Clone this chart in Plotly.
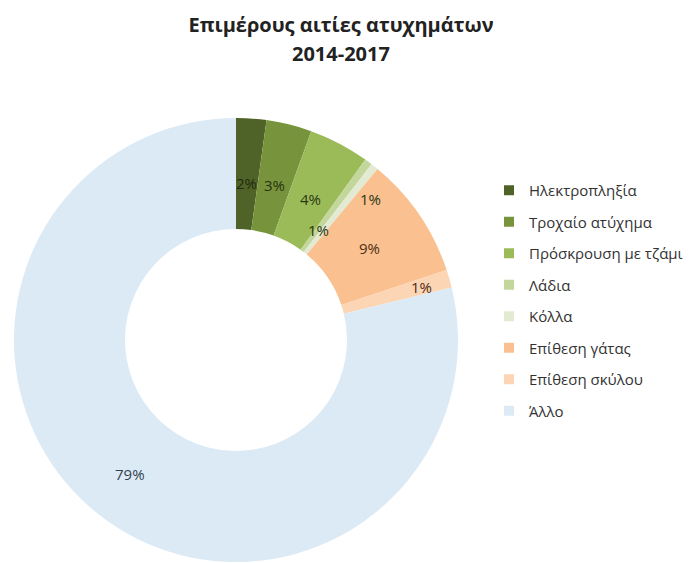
import math
import plotly.graph_objects as go

# Causes of accidents, share of total (%), 2014-2017
categories = [
    "Ηλεκτροπληξία",
    "Τροχαίο ατύχημα",
    "Πρόσκρουση με τζάμι",
    "Λάδια",
    "Κόλλα",
    "Επίθεση γάτας",
    "Επίθεση σκύλου",
    "Άλλο",
]
shares = [2.2, 3.3, 4.4, 0.55, 0.55, 8.9, 1.3, 78.8]

title_line1 = "Επιμέρους αιτίες ατυχημάτων"
title_line2 = "2014-2017"

# Styling
colors = ["#4f6228", "#77933c", "#9bbb59", "#c3d69b", "#e2ebd2",
          "#fac090", "#fcd5b5", "#dbeaf5"]
label_colors = ["#1f2a0c", "#26330f", "#2a3814", "#2a3814", "#2a3814",
                "#4e2e16", "#4e2e16", "#333f4d"]
# radial position of each value label (fraction of outer radius) and angular nudge (deg)
label_rfrac = [0.71, 0.72, 0.72, 0.62, 0.88, 0.73, 0.87, 0.77]
label_dang = [0, 0, 0, 0, 5, 0, 0, 0]

W, H = 699, 563
FONT = "Open Sans"
dom_x = [0.0200, 0.6552]
dom_y = [0.0018, 0.7904]
hole = 0.5

fig = go.Figure()
fig.add_trace(go.Pie(
    labels=categories,
    values=shares,
    sort=False,
    direction="clockwise",
    rotation=0,
    hole=hole,
    marker=dict(colors=colors, line=dict(width=0)),
    textinfo="none",
    hoverinfo="label+percent",
    showlegend=False,
    domain=dict(x=dom_x, y=dom_y),
))

# value labels placed at each slice's mid-angle
cx = (dom_x[0] + dom_x[1]) / 2 * W
cy = (1 - (dom_y[0] + dom_y[1]) / 2) * H
R = min((dom_x[1] - dom_x[0]) * W, (dom_y[1] - dom_y[0]) * H) / 2
total = sum(shares)
cum = 0.0
annotations = []
for v, rf, da, tc in zip(shares, label_rfrac, label_dang, label_colors):
    mid = (cum + v / 2) / total * 360 + da
    cum += v
    px = cx + rf * R * math.sin(math.radians(mid))
    py = cy - rf * R * math.cos(math.radians(mid))
    annotations.append(dict(
        x=px / W, y=1 - py / H, xref="paper", yref="paper",
        text=f"{v / total:.0%}", showarrow=False,
        font=dict(family=FONT, size=15, color=tc),
        xanchor="center", yanchor="middle",
    ))

annotations.append(dict(
    x=0.488, y=1 - 54 / H, xref="paper", yref="paper",
    text=f"<b>{title_line2}</b>", showarrow=False,
    font=dict(family=FONT, size=20, color="#222222"),
    xanchor="center", yanchor="middle",
))

# legend entries, one group each so the rows can be spaced apart
for name, col in zip(categories, colors):
    fig.add_trace(go.Scatter(
        x=[None], y=[None], mode="markers", name=name,
        legendgroup=name,
        marker=dict(symbol="square", size=10, color=col),
        hoverinfo="skip",
    ))

fig.update_layout(
    width=W, height=H,
    margin=dict(l=0, r=0, t=0, b=0),
    paper_bgcolor="white", plot_bgcolor="white",
    title=dict(text=f"<b>{title_line1}</b>", x=0.488, xanchor="center",
               y=1 - 25 / H, yanchor="middle",
               font=dict(family=FONT, size=20, color="#222222")),
    xaxis=dict(visible=False), yaxis=dict(visible=False),
    legend=dict(x=0.6996, y=1 - 174 / H, xanchor="left", yanchor="top",
                font=dict(family=FONT, size=15, color="#333333"),
                tracegroupgap=9, itemwidth=30,
                bgcolor="rgba(0,0,0,0)"),
    annotations=annotations,
    showlegend=True,
)

fig.write_html("out.html")
